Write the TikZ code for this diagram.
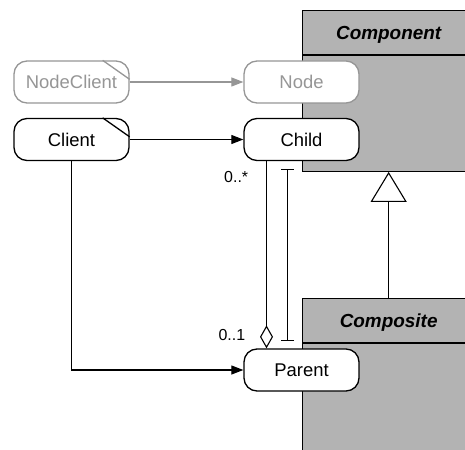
\documentclass[tikz,border=0pt]{standalone}
\usepackage{fontspec}
\setmainfont{Liberation Sans}
\usetikzlibrary{shapes.multipart,arrows.meta,positioning}
\definecolor{myboxgray}{RGB}{179,179,179}
\definecolor{myfaded}{RGB}{150,150,150}

\begin{document}
\begin{tikzpicture}[
  x=1bp, y=-1bp,
  line width=1.1bp,
  myclass/.style={
    draw,
    line width=1.3bp,
    rectangle split,
    rectangle split parts=2,
    rectangle split part fill={myboxgray, myboxgray},
    inner xsep=0pt,
    inner ysep=0pt,
    text width=172bp,
    align=center,
    font=\fontsize{19}{22}\selectfont\bfseries\itshape
    },
  myobj/.style={
    draw,
    fill=white,
    line width=1.3bp,
    rounded corners=13bp,
    minimum width=115bp,
    minimum height=42bp,
    font=\fontsize{18.5}{22}\selectfont
    },
  myghost/.style={draw=myfaded, text=myfaded},
  mult/.style={font=\fontsize{16}{18}\selectfont},
  link/.style={-{Triangle[length=12bp,width=9bp]}}
]
\useasboundingbox (0,0) rectangle (465,450);
\clip (0,0) rectangle (465,450);

% class boxes
\node [myclass, anchor=north west] (Component) at (302,10)
  {\rule[-14.7bp]{0pt}{43bp}Component\nodepart{two}\rule{0pt}{115bp}};
\node [myclass, anchor=north west] (Composite) at (302,298)
  {\rule[-14.7bp]{0pt}{43bp}Composite\nodepart{two}\rule{0pt}{130bp}};

% objects
\node [myobj, myghost] (NodeClient) at (71.5,82) {NodeClient};
\node [myobj] (Client) at (71.5,139.5) {Client};
\node [myobj, myghost] (Node) at (301.5,82) {Node};
\node [myobj] (Child) at (301.5,139.5) {Child};
\node [myobj] (Parent) at (301.5,370) {Parent};

% folded corners
\draw [myfaded, line width=1.3bp] ([xshift=-27bp]NodeClient.north east) -- ([yshift=-19bp]NodeClient.north east);
\draw [line width=1.3bp] ([xshift=-27bp]Client.north east) -- ([yshift=-19bp]Client.north east);

% links
\draw [link, myfaded] (NodeClient) -- (Node);
\draw [link] (Client) -- (Child);
\draw [link] (Client) |- (Parent);

% aggregation
\draw [{Diamond[open,length=23bp,width=13bp]}-] ([xshift=-35bp]Parent.north) -- ([xshift=-35bp]Child.south);
\draw [{Bar[width=13bp]}-{Bar[width=13bp]}] ([xshift=-14bp,yshift=-8bp]Child.south) -- ([xshift=-14bp,yshift=7bp]Parent.north);
\node [mult, anchor=east] (many) at (252,177) {0..*};
\node [mult, anchor=east] (single) at (249,335) {0..1};

% generalization
\draw [-{Triangle[open,fill=white,length=30bp,width=36bp]}] (Composite.north) -- (Component.south);

\end{tikzpicture}
\end{document}
